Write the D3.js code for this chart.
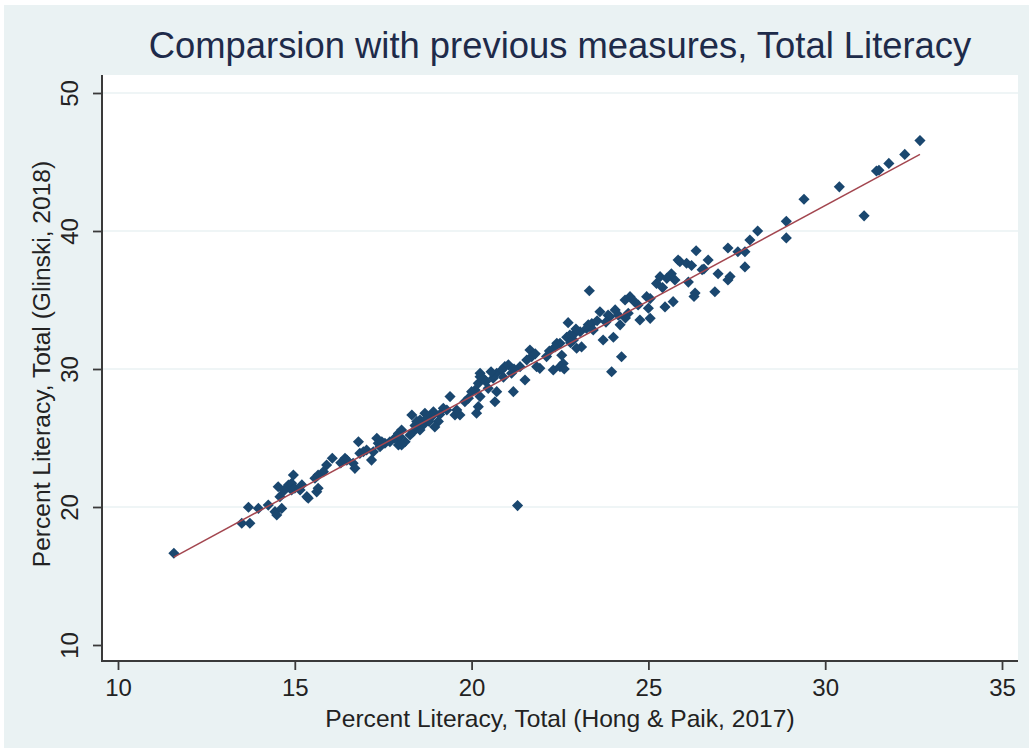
<!DOCTYPE html>
<html lang="en">
<head>
<meta charset="UTF-8">
<title>Comparsion with previous measures, Total Literacy</title>
<style>
    body { margin: 0; background: #ffffff; }
    svg text { font-family: 'Liberation Sans', Arial, sans-serif; }
</style>
<script src="https://d3js.org/d3.v7.min.js"></script>
</head>
<body>
<svg id="chart" width="1029" height="748"></svg>
<script>
    // Tick values
    const xTicks = [10, 15, 20, 25, 30, 35];
    const yTicks = [10, 20, 30, 40, 50];
    const yGrid = [20, 30, 40, 50];

    // Hong & Paik 2017 (x) vs Glinski 2018 (y)
    const hongPaik = [
        11.58, 13.5, 13.73, 13.69, 13.97, 14.25, 14.44, 14.49, 14.63, 14.58,
        14.53, 14.82, 14.91, 14.96, 14.91, 15.0, 15.15, 15.34, 15.38, 15.62,
        15.66, 15.57, 15.66, 15.81, 15.9, 16.06, 16.42, 16.47, 16.65, 16.7,
        16.8, 16.84, 16.94, 17.03, 17.17, 17.32, 17.36, 17.22, 17.55, 17.69,
        17.88, 17.93, 17.41, 17.46, 17.83, 17.93, 18.02, 17.97, 18.12, 18.02,
        18.35, 18.26, 18.63, 18.54, 19.06, 18.96, 18.54, 18.45, 18.31, 18.68,
        18.73, 18.92, 18.87, 19.2, 19.3, 19.53, 19.67, 19.58, 19.39, 19.91,
        19.81, 20.14, 20.19, 20.66, 20.24, 20.1, 20.0, 20.24, 20.33, 20.19,
        20.24, 20.47, 20.71, 20.71, 20.61, 21.04, 20.94, 20.85, 21.13, 21.18,
        21.37, 21.51, 21.65, 21.7, 21.56, 21.93, 21.84, 22.12, 22.31, 22.59,
        22.5, 22.55, 22.62, 22.5, 22.41, 22.36, 22.69, 22.78, 22.88, 22.73,
        22.92, 23.07, 23.11, 22.97, 23.3, 23.4, 23.25, 23.44, 23.33, 23.63,
        23.72, 23.86, 23.91, 24.06, 24.01, 24.15, 24.2, 23.96, 24.24, 24.43,
        24.48, 24.34, 24.71, 24.76, 25.05, 25.05, 24.95, 25.0, 25.23, 25.33,
        25.52, 25.47, 25.7, 25.75, 25.84, 25.89, 26.08, 26.22, 26.13, 26.32,
        26.29, 26.35, 26.52, 26.57, 26.69, 26.88, 26.97, 27.25, 27.31, 27.73,
        27.25, 27.53, 27.73, 27.87, 28.09, 28.9, 28.9, 29.4, 30.4, 31.1,
        31.45, 31.52, 31.8, 32.25, 32.68, 21.3,
        20.4, 20.55, 20.9, 21.2, 22.8, 22.95, 23.55, 24.6, 25.4, 25.65,
        18.4, 18.8, 19.1, 16.3, 15.2, 14.7, 23.8, 21.8, 24.35, 22.2
    ];
    const glinski = [
        16.65, 18.82, 18.82, 19.98, 19.9, 20.14, 19.66, 19.42, 19.9, 20.75,
        21.47, 21.59, 21.72, 22.32, 21.23, 21.36, 21.23, 20.75, 20.63, 21.1,
        21.36, 22.08, 22.32, 22.56, 23.04, 23.53, 23.53, 23.4, 23.17, 22.8,
        24.73, 23.89, 24.0, 24.13, 23.4, 24.98, 24.62, 24.0, 24.62, 24.73,
        25.1, 24.49, 24.37, 24.73, 24.98, 25.33, 25.58, 25.1, 24.73, 24.49,
        25.46, 25.22, 25.94, 25.58, 26.2, 25.8, 26.3, 26.2, 26.67, 26.79,
        26.43, 26.9, 26.55, 27.15, 27.03, 26.67, 26.67, 27.03, 28.0, 27.88,
        27.63, 26.8, 27.27, 27.63, 28.0, 28.48, 28.36, 29.69, 29.33, 28.96,
        29.44, 28.6, 28.36, 29.69, 29.33, 30.3, 30.17, 29.93, 29.69, 28.36,
        30.17, 29.2, 31.38, 30.9, 30.65, 30.05, 30.17, 30.9, 29.93, 30.4,
        30.17, 31.0, 30.0, 31.86, 31.86, 31.6, 32.3, 32.46, 32.1, 33.36,
        32.6, 32.7, 31.6, 31.5, 33.2, 33.3, 32.94, 32.83, 35.67, 34.15,
        32.1, 33.9, 33.8, 34.28, 32.3, 33.9, 33.2, 29.8, 30.89, 34.04,
        35.24, 35.0, 34.64, 33.55, 33.67, 35.1, 35.24, 34.4, 36.2, 36.69,
        36.57, 34.5, 34.88, 36.45, 37.9, 37.78, 37.66, 37.5, 36.3, 35.5,
        35.25, 38.57, 37.2, 37.25, 37.9, 35.6, 36.9, 36.45, 36.7, 37.4,
        38.77, 38.5, 38.5, 39.35, 40.0, 40.7, 39.5, 42.3, 43.2, 41.1,
        44.35, 44.4, 44.9, 45.55, 46.55, 20.1,
        29.1, 29.8, 29.4, 30.0, 31.9, 32.9, 33.5, 34.9, 35.9, 36.9,
        25.9, 26.2, 26.7, 23.2, 21.6, 21.2, 33.4, 31.1, 33.7, 31.3
    ];

    const points = hongPaik.map((v, i) => ({x: v, y: glinski[i]}));

    const svg = d3.select("#chart");

    // graph region and plot region
    const plot = {left: 102, right: 1018, top: 75, bottom: 661};

    svg.append("rect")
        .attr("x", 4).attr("y", 5)
        .attr("width", 1025).attr("height", 743)
        .attr("fill", "#eaf2f3");

    svg.append("rect")
        .attr("x", plot.left).attr("y", plot.top)
        .attr("width", plot.right - plot.left)
        .attr("height", plot.bottom - plot.top)
        .attr("fill", "#ffffff");

    const x = d3.scaleLinear().domain([10, 35]).range([118, 1002]);
    const y = d3.scaleLinear().domain([10, 50]).range([645, 93]);

    // grid lines
    svg.append("g")
        .selectAll("line")
        .data(yGrid)
        .enter().append("line")
        .attr("x1", plot.left).attr("x2", plot.right)
        .attr("y1", d => y(d)).attr("y2", d => y(d))
        .attr("stroke", "#eaf2f3")
        .attr("stroke-width", 1.6);

    // fitted line (least squares)
    const mx = d3.mean(points, d => d.x), my = d3.mean(points, d => d.y);
    const slope = d3.sum(points, d => (d.x - mx) * (d.y - my)) / d3.sum(points, d => (d.x - mx) ** 2);
    const icpt = my - slope * mx;
    const [x0, x1] = d3.extent(points, d => d.x);

    // markers (diamonds)
    const diamond = d3.symbol().type(d3.symbolSquare).size(62);
    svg.append("g")
        .selectAll("path")
        .data(points)
        .enter().append("path")
        .attr("d", diamond)
        .attr("transform", d => `translate(${x(d.x)},${y(d.y)}) rotate(45)`)
        .attr("fill", "#1a476f");

    svg.append("line")
        .attr("x1", x(x0)).attr("y1", y(icpt + slope * x0))
        .attr("x2", x(x1)).attr("y2", y(icpt + slope * x1))
        .attr("stroke", "#a3464f")
        .attr("stroke-width", 1.5);

    // axes
    const xAxis = svg.append("g")
        .attr("transform", `translate(0,${plot.bottom})`)
        .call(d3.axisBottom(x).tickValues(xTicks).tickSize(9).tickPadding(9));
    const yAxis = svg.append("g")
        .attr("transform", `translate(${plot.left},0)`)
        .call(d3.axisLeft(y).tickValues(yTicks).tickSize(9).tickPadding(0));

    [xAxis, yAxis].forEach(g => {
        g.select(".domain").remove();
        g.selectAll(".tick line").attr("stroke", "#3a3a3a").attr("stroke-width", 1.8);
        g.selectAll(".tick text")
            .attr("fill", "#222")
            .style("font-size", "24px")
            .style("font-family", "'Liberation Sans', Arial, sans-serif");
    });

    yAxis.selectAll(".tick text")
        .attr("x", null).attr("dy", null)
        .attr("text-anchor", "middle")
        .attr("transform", "translate(-24,0) rotate(-90)");

    // axis lines
    svg.append("line")
        .attr("x1", plot.left).attr("x2", plot.left)
        .attr("y1", plot.top).attr("y2", plot.bottom)
        .attr("stroke", "#3a3a3a").attr("stroke-width", 2);
    svg.append("line")
        .attr("x1", plot.left - 1).attr("x2", plot.right)
        .attr("y1", plot.bottom).attr("y2", plot.bottom)
        .attr("stroke", "#3a3a3a").attr("stroke-width", 2);

    // titles
    svg.append("text")
        .attr("x", (plot.left + plot.right) / 2).attr("y", 58)
        .attr("text-anchor", "middle")
        .attr("fill", "#1e2b4a")
        .style("font-size", "36.4px")
        .text("Comparsion with previous measures, Total Literacy");

    svg.append("text")
        .attr("x", (plot.left + plot.right) / 2).attr("y", 727)
        .attr("text-anchor", "middle")
        .attr("fill", "#222")
        .style("font-size", "24.6px")
        .text("Percent Literacy, Total (Hong & Paik, 2017)");

    svg.append("text")
        .attr("transform", `translate(50,${(plot.top + plot.bottom) / 2 - 4}) rotate(-90)`)
        .attr("text-anchor", "middle")
        .attr("fill", "#222")
        .style("font-size", "24.6px")
        .text("Percent Literacy, Total (Glinski, 2018)");
</script>
</body>
</html>
